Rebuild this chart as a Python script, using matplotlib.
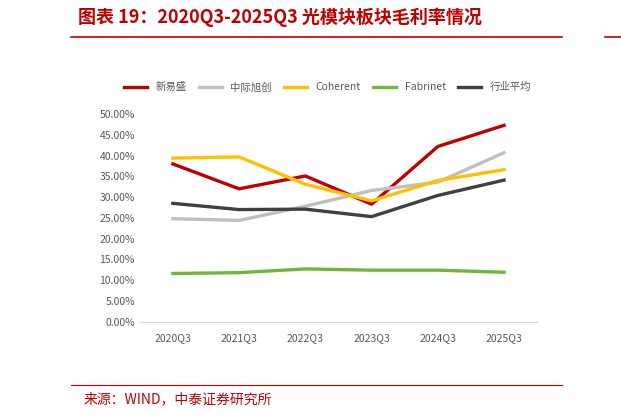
import matplotlib.pyplot as plt
from matplotlib.ticker import FuncFormatter

plt.rcParams['font.family'] = ['Noto Sans CJK SC', 'DejaVu Sans']

quarters = ["2020Q3", "2021Q3", "2022Q3", "2023Q3", "2024Q3", "2025Q3"]
names = ["新易盛", "中际旭创", "Coherent", "Fabrinet", "行业平均"]
xys = [38.0, 32.0, 35.1, 28.3, 42.2, 47.3]
zjxc = [24.8, 24.4, 27.8, 31.6, 33.6, 40.7]
coherent = [39.4, 39.7, 33.1, 29.1, 34.0, 36.6]
fabrinet = [11.6, 11.8, 12.7, 12.4, 12.4, 11.9]
avg = [28.5, 27.0, 27.1, 25.3, 30.4, 34.1]
series = [xys, zjxc, coherent, fabrinet, avg]
colors = ["#C00000", "#BFBFBF", "#FFC000", "#70B63A", "#404040"]

fig = plt.figure(figsize=(6.21, 4.15), dpi=100)
ax = fig.add_axes([0.225, 0.225, 0.64, 0.5])
for vals, c, n in zip(series, colors, names):
    ax.plot(quarters, vals, color=c, lw=2.4, label=n)

ax.set_ylim(0, 50)
ax.set_yticks(range(0, 51, 5))
ax.yaxis.set_major_formatter(FuncFormatter(lambda v, p: f"{v:.2f}%"))
ax.set_xlim(-0.5, 5.5)
for s in ["top", "right", "left"]:
    ax.spines[s].set_visible(False)
ax.spines["bottom"].set_color("#D9D9D9")
ax.tick_params(length=0, labelsize=7.5, colors="#595959")
ax.tick_params(axis="x", pad=8)
fig.legend(*ax.get_legend_handles_labels(), loc="center left",
           bbox_to_anchor=(0.185, 0.79), ncol=5, frameon=False,
           fontsize=7.5, handlelength=2.2, columnspacing=1.2, labelcolor="#595959")

fig.text(0.125, 0.945, "图表 19：2020Q3-2025Q3 光模块板块毛利率情况", color="#C00000",
         fontsize=13, fontweight="bold", style="italic")
fig.add_artist(plt.Line2D([0.115, 0.905], [0.91, 0.91], color="#C00000", lw=1.2))
fig.add_artist(plt.Line2D([0.975, 1.0], [0.91, 0.91], color="#C00000", lw=1.2))
fig.add_artist(plt.Line2D([0.115, 0.905], [0.072, 0.072], color="#C00000", lw=0.8))
fig.text(0.135, 0.028, "来源：WIND，中泰证券研究所", color="#C00000", fontsize=10)

fig.savefig("out.png", dpi=100)
